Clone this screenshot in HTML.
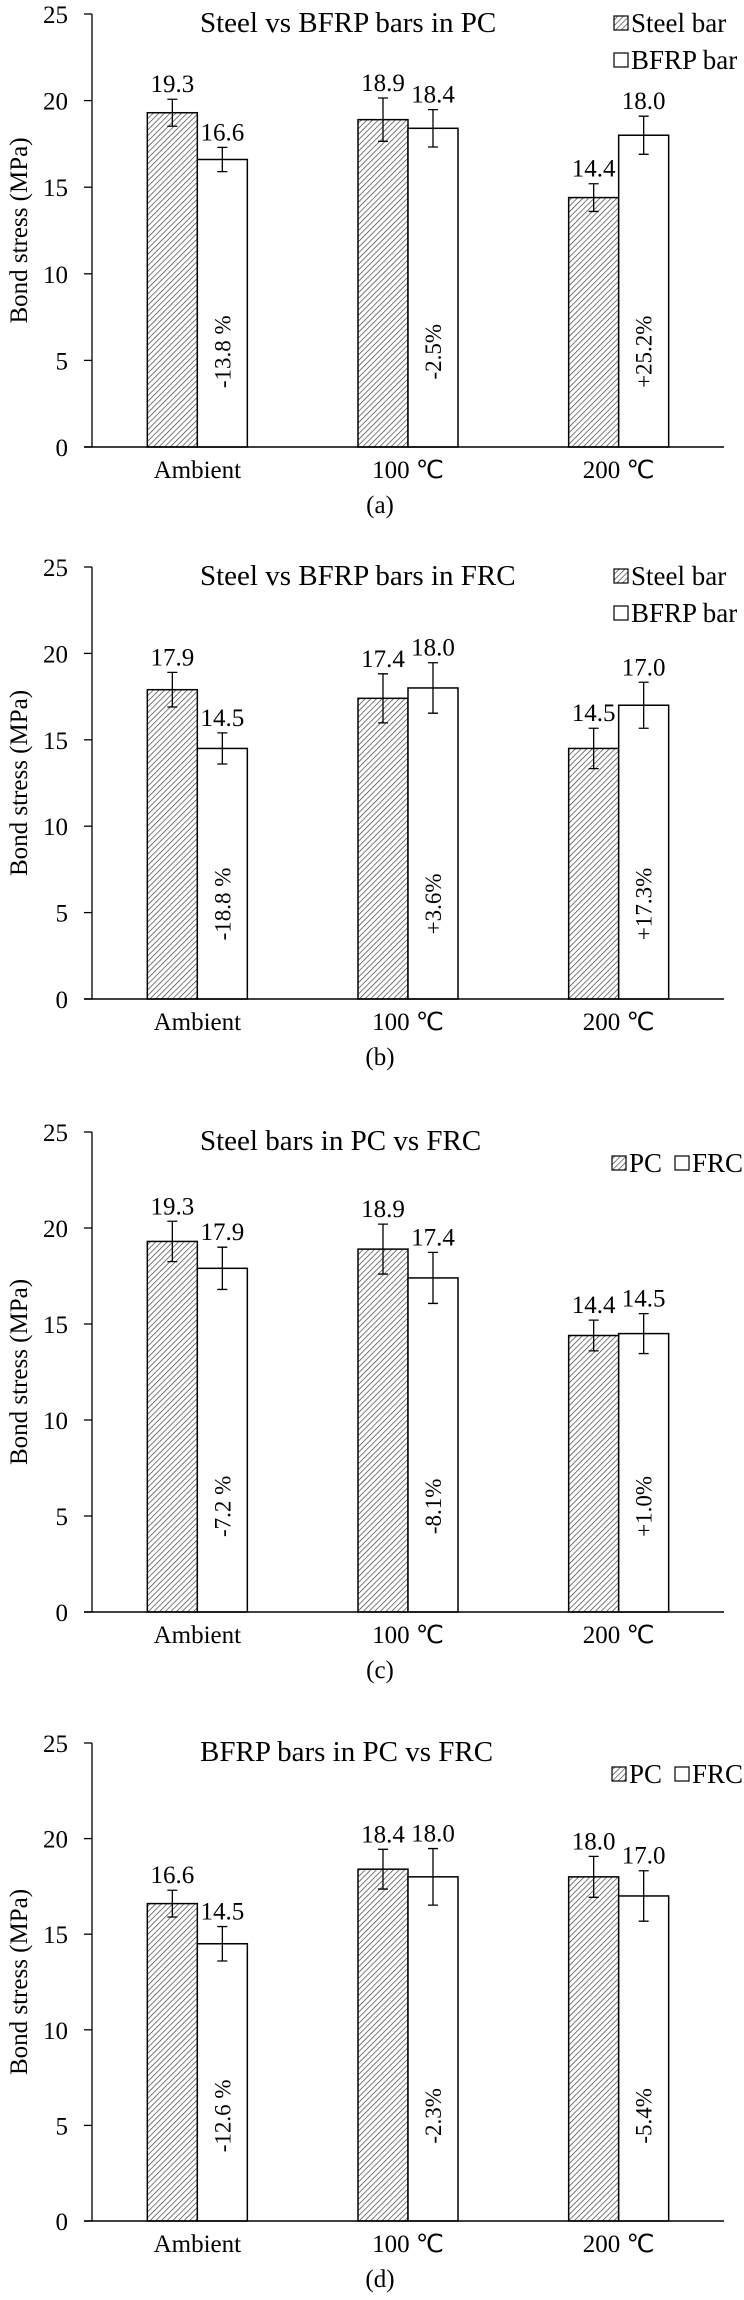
<!DOCTYPE html>
<html><head><meta charset="utf-8"><style>
html,body{margin:0;padding:0;background:#fff;}
svg{display:block;font-family:"Liberation Serif","Times New Roman",serif;}
</style></head><body>
<svg id="chart" width="744" height="2300" viewBox="0 0 744 2300" xmlns="http://www.w3.org/2000/svg">
<defs>
<pattern id="hatch" patternUnits="userSpaceOnUse" width="4" height="4" patternTransform="rotate(45)">
<rect width="4" height="4" fill="#fff"/>
<line x1="0" y1="0" x2="0" y2="4" stroke="#333" stroke-width="1.3"/>
</pattern>
</defs>
</svg>
<script>
const categories = ["Ambient", "100 \u2103", "200 \u2103"];
const titles = ["Steel vs BFRP bars in PC", "Steel vs BFRP bars in FRC", "Steel bars in PC vs FRC", "BFRP bars in PC vs FRC"];
const panelLetters = ["(a)", "(b)", "(c)", "(d)"];
const legendA = ["Steel bar", "Steel bar", "PC", "PC"];
const legendB = ["BFRP bar", "BFRP bar", "FRC", "FRC"];
const seriesA = [[19.3, 18.9, 14.4], [17.9, 17.4, 14.5], [19.3, 18.9, 14.4], [16.6, 18.4, 18.0]];
const seriesB = [[16.6, 18.4, 18.0], [14.5, 18.0, 17.0], [17.9, 17.4, 14.5], [14.5, 18.0, 17.0]];
const errA = [[0.78, 1.25, 0.8], [1.0, 1.42, 1.17], [1.05, 1.3, 0.8], [0.7, 1.04, 1.07]];
const errB = [[0.7, 1.08, 1.1], [0.9, 1.46, 1.33], [1.1, 1.33, 1.04], [0.9, 1.48, 1.32]];
const changes = [["-13.8 %", "-2.5%", "+25.2%"], ["-18.8 %", "+3.6%", "+17.3%"], ["-7.2 %", "-8.1%", "+1.0%"], ["-12.6 %", "-2.3%", "-5.4%"]];
const yTicks = [0, 5, 10, 15, 20, 25];

const panelTop = [14, 567, 1132, 1743];
const panelZero = [447, 999, 1612, 2221];
const svg = document.getElementById('chart');
const NS = 'http://www.w3.org/2000/svg';
function mk(tag, attrs, parent) {
  const e = document.createElementNS(NS, tag);
  for (const k in attrs) e.setAttribute(k, attrs[k]);
  (parent || svg).appendChild(e);
  return e;
}
const axisX = 92, plotR = 724, yMax = 25;
const groupW = (plotR - axisX) / categories.length;
const barW = 50;
function xCenter(i) { return axisX + groupW * (i + 0.5); }

for (let p = 0; p < 4; p++) {
  const top = panelTop[p], zero = panelZero[p];
  const y = v => zero - (v / yMax) * (zero - top);
  const g = mk('g', {});
  
  

  const ax = mk('line', {x1: axisX, y1: top, x2: axisX, y2: zero, stroke: '#000', 'stroke-width': 1.3}, g);
  
  
  yTicks.forEach(t => {
    const tk = mk('line', {x1: axisX - 8, y1: y(t), x2: axisX, y2: y(t), stroke: '#000', 'stroke-width': 1.3}, g);
    
    
    const tl = mk('text', {x: 68, y: y(t) + 9, 'text-anchor': 'end', 'font-size': 25}, g);
    tl.textContent = t;
    
    
  });
  const yt = mk('text', {x: 0, y: 0, 'text-anchor': 'middle', 'font-size': 25, transform: 'translate(27,' + ((top + zero) / 2) + ') rotate(-90)'}, g);
  yt.textContent = 'Bond stress (MPa)';
  
  

  for (let i = 0; i < categories.length; i++) {
    const cx = xCenter(i);
    const vals = [seriesA[p][i], seriesB[p][i]];
    const errs = [errA[p][i], errB[p][i]];
    for (let s = 0; s < 2; s++) {
      const x0 = s === 0 ? cx - barW : cx;
      const r = mk('rect', {x: x0, y: y(vals[s]), width: barW, height: zero - y(vals[s]), fill: s === 0 ? 'url(#hatch)' : '#fff', stroke: '#000', 'stroke-width': 1.5}, g);
      
      
      const bx = x0 + barW / 2;
      const eTop = y(vals[s] + errs[s]), eBot = y(vals[s] - errs[s]);
      const eb = mk('path', {d: 'M' + bx + ' ' + eTop + 'V' + eBot + 'M' + (bx - 5) + ' ' + eTop + 'H' + (bx + 5) + 'M' + (bx - 5) + ' ' + eBot + 'H' + (bx + 5), stroke: '#000', 'stroke-width': 1.3, fill: 'none'}, g);
      
      
      const vl = mk('text', {x: bx, y: eTop - 7, 'text-anchor': 'middle', 'font-size': 25}, g);
      vl.textContent = vals[s].toFixed(1);
      
      
    }
    const pc = mk('text', {x: 0, y: 0, 'text-anchor': 'middle', 'font-size': 23, transform: 'translate(' + (cx + barW / 2 + 8) + ',' + y(5.5) + ') rotate(-90)'}, g);
    pc.textContent = changes[p][i];
    
    
    const cl = mk('text', {x: cx, y: zero + 31, 'text-anchor': 'middle', 'font-size': 25}, g);
    cl.textContent = categories[i];
    
    
  }
  const xa = mk('line', {x1: axisX - 8, y1: zero, x2: plotR, y2: zero, stroke: '#000', 'stroke-width': 1.5}, g);
  
  

  const tt = mk('text', {x: 200, y: top + 18, 'font-size': 29}, g);
  tt.textContent = titles[p];
  
  

  if (p < 2) {
    const rows = [[legendA[p], 'url(#hatch)', top + 18], [legendB[p], '#fff', top + 55]];
    rows.forEach(rw => {
      const sw = mk('rect', {x: 614, y: rw[2] - 16, width: 14, height: 14, fill: rw[1], stroke: '#000', 'stroke-width': 1.2}, g);
      
      
      const lt = mk('text', {x: 631, y: rw[2], 'font-size': 27}, g);
      lt.textContent = rw[0];
      
      
    });
  } else {
    const ly = top + 40;
    const s1 = mk('rect', {x: 612, y: ly - 16, width: 14, height: 14, fill: 'url(#hatch)', stroke: '#000', 'stroke-width': 1.2}, g);
    
    
    const t1 = mk('text', {x: 629, y: ly, 'font-size': 27}, g);
    t1.textContent = legendA[p];
    
    
    const s2 = mk('rect', {x: 675, y: ly - 16, width: 14, height: 14, fill: '#fff', stroke: '#000', 'stroke-width': 1.2}, g);
    
    
    const t2 = mk('text', {x: 692, y: ly, 'font-size': 27}, g);
    t2.textContent = legendB[p];
    
    
  }
  const pl = mk('text', {x: 380, y: zero + 66, 'text-anchor': 'middle', 'font-size': 25}, g);
  pl.textContent = panelLetters[p];
  
  
}
</script>
</body></html>
